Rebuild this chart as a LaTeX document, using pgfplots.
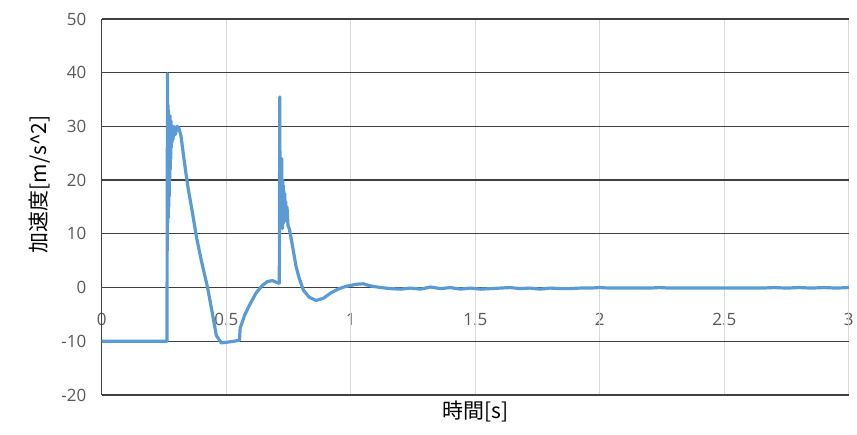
\documentclass[border=0pt]{standalone}
\usepackage{pgfplots}
\pgfplotsset{compat=1.18}
\usepackage{fontspec}
\setmainfont{Open Sans}
\newfontfamily\cjk{Noto Sans CJK JP}
\definecolor{xlblue}{HTML}{5B9BD5}
\definecolor{tickgray}{HTML}{595959}
\definecolor{hgrid}{HTML}{404040}
\definecolor{vgrid}{HTML}{D9D9D9}
\begin{document}
\begin{tikzpicture}
\begin{axis}[
  scale only axis, width=749pt, height=377pt,
  xmin=0, xmax=3, ymin=-20, ymax=50,
  xtick={0,0.5,...,3}, ytick={-20,-10,...,50},
  xticklabels={0,0.5,1,1.5,2,2.5,3},
  axis line style={draw=none},
  tick style={draw=none},
  /pgf/number format/assume math mode=true,
  font=\fontsize{17}{20}\selectfont,
  tick label style={text=tickgray},
  x tick label style={anchor=center, yshift=76pt},
  y tick label style={xshift=-12pt},
  xlabel={\cjk 時間[s]}, ylabel={\cjk 加速度[m/s\^{}2]},
  label style={font=\fontsize{21}{24}\selectfont, text=black},
  xlabel style={at={(axis description cs:0.5,0)}, anchor=north, yshift=-2pt},
  ylabel style={at={(axis description cs:0,0.56)}, anchor=center, yshift=62pt},
  clip=false,
]
% grid
\pgfplotsinvokeforeach{0.5,1,1.5,2,2.5,3}{
  \addplot[vgrid, line width=1.2pt, forget plot] coordinates {(#1,-20) (#1,50)};
}
\pgfplotsinvokeforeach{-20,-10,0,10,20,30,40,50}{
  \addplot[hgrid, line width=1.3pt, forget plot] coordinates {(0,#1) (3,#1)};
}
\addplot[hgrid, line width=1.3pt, forget plot] coordinates {(0,-20) (0,50)};
% data
\addplot[xlblue, line width=3.2pt, line join=round] coordinates {
(0,-10) (0.262,-10) (0.264,39.8) (0.265,12) (0.266,34) (0.267,13) (0.268,33) (0.269,15) (0.270,32)
(0.271,17) (0.272,30) (0.273,20) (0.274,32) (0.275,22) (0.276,30) (0.277,24) (0.278,31) (0.279,26)
(0.280,30) (0.282,27) (0.284,30) (0.286,27.5)
(0.290,30) (0.296,28.5) (0.303,30) (0.310,29.6) (0.318,28.3) (0.33,24) (0.345,19)
(0.364,14) (0.38,9.5) (0.40,5) (0.425,0) (0.445,-5) (0.46,-8.9) (0.48,-10.3)
(0.50,-10.2) (0.53,-10) (0.553,-9.8) (0.556,-7.5) (0.56,-7) (0.575,-5)
(0.593,-3.3) (0.62,-1) (0.645,0.4) (0.665,1.1) (0.685,1.3) (0.70,1.0) (0.713,0.8)
(0.715,35.5) (0.716,12) (0.717,24) (0.718,11) (0.719,24) (0.720,13) (0.721,23) (0.722,12)
(0.723,24) (0.724,14) (0.725,20) (0.726,11) (0.727,20) (0.728,12) (0.729,19)
(0.730,12) (0.731,18) (0.733,13) (0.735,17.5) (0.737,12.5) (0.739,16) (0.741,12.5) (0.744,15) (0.748,11.5)
(0.753,11) (0.765,8) (0.78,4) (0.793,1.7) (0.81,-0.5) (0.833,-1.8) (0.86,-2.4)
(0.89,-2.0) (0.92,-1.0) (0.953,-0.2) (0.98,0.2) (1.02,0.6) (1.05,0.7) (1.08,0.3)
(1.12,0) (1.16,-0.2) (1.20,-0.3) (1.24,-0.1) (1.28,-0.3) (1.32,0.1) (1.36,-0.2)
(1.40,0.0) (1.44,-0.3) (1.48,-0.1) (1.52,-0.3) (1.56,-0.2) (1.60,-0.1) (1.64,0.0)
(1.68,-0.2) (1.72,-0.1) (1.76,-0.3) (1.80,-0.1) (1.84,-0.2) (1.88,-0.2) (1.92,-0.1)
(1.96,-0.1) (2.00,0.0) (2.04,-0.1) (2.08,-0.1) (2.12,-0.1) (2.16,-0.1) (2.20,-0.1)
(2.24,0.0) (2.28,-0.1) (2.32,-0.1) (2.36,-0.1) (2.40,-0.1) (2.45,-0.1) (2.50,-0.1)
(2.55,-0.1) (2.60,-0.1) (2.65,-0.1) (2.70,0.0) (2.75,-0.1) (2.80,0.0) (2.85,-0.1)
(2.90,0.0) (2.95,-0.1) (3.00,0.0)
};
\end{axis}
\path (current axis.south west) ++(-102pt,-40pt) rectangle ++(857pt,436pt);
\end{tikzpicture}
\end{document}
